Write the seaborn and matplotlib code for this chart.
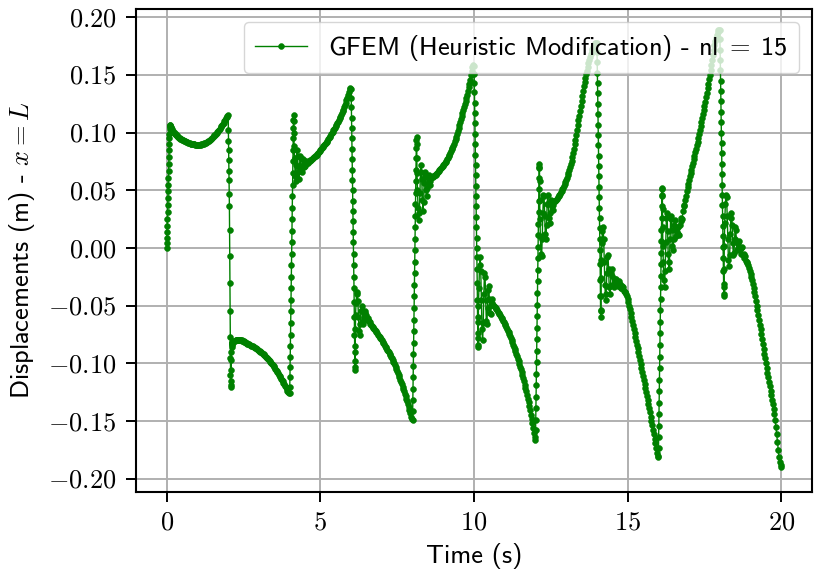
import numpy as np
import pandas as pd
import matplotlib
matplotlib.use("Agg")
import matplotlib.pyplot as plt
import seaborn as sns
from matplotlib.ticker import FuncFormatter

# Tip displacement u(x = L) of the bar under a load that flips sign every 2 s.
# Each 2 s half-period is stored as one list, sampled at the offsets below:
# 30 fine samples across the switch, 23 during the settling, 55 on the drift.
jump_offsets = 0.005 * np.arange(30)
settle_offsets = 0.16 + 0.02 * np.arange(23)
drift_offsets = 0.625 + 0.025 * np.arange(55)
period_starts = [0, 2, 4, 6, 8, 10, 12, 14, 16, 18]

u_00 = [0.000, 0.004, 0.009, 0.014, 0.019, 0.025, 0.031, 0.037, 0.043, 0.049,
        0.055, 0.061, 0.067, 0.073, 0.079, 0.085, 0.090, 0.095, 0.099, 0.103,
        0.1065, 0.1062, 0.1058, 0.1054, 0.1050, 0.1047, 0.1044, 0.1041, 0.1038, 0.1035,
        0.1027, 0.1018, 0.1012, 0.1005, 0.0999, 0.0993, 0.0986, 0.0980, 0.0975, 0.0970,
        0.0965, 0.0960, 0.0956, 0.0952, 0.0948, 0.0945, 0.0941, 0.0938, 0.0935, 0.0932,
        0.0929, 0.0927, 0.0924,
        0.0921, 0.0918, 0.0915, 0.0912, 0.0910, 0.0907, 0.0905, 0.0903, 0.0901, 0.0900,
        0.0898, 0.0897, 0.0896, 0.0895, 0.0894, 0.0894, 0.0894, 0.0894, 0.0895, 0.0896,
        0.0897, 0.0899, 0.0901, 0.0903, 0.0906, 0.0909, 0.0912, 0.0916, 0.0920, 0.0925,
        0.0930, 0.0935, 0.0941, 0.0947, 0.0953, 0.0960, 0.0967, 0.0975, 0.0982, 0.0990,
        0.0998, 0.1007, 0.1016, 0.1025, 0.1035, 0.1045, 0.1055, 0.1065, 0.1076, 0.1087,
        0.1098, 0.1110, 0.1124, 0.1138, 0.1148]

u_02 = [0.115, 0.102, 0.093, 0.085, 0.076, 0.067, 0.059, 0.047, 0.036, 0.016,
        -0.007, -0.030, -0.055, -0.077, -0.095, -0.110, -0.119, -0.120, -0.115, -0.106,
        -0.097, -0.090, -0.086, -0.084, -0.083, -0.0825, -0.0822, -0.0820, -0.0818, -0.0816,
        -0.0812, -0.0808, -0.0805, -0.0802, -0.0800, -0.0798, -0.0797, -0.0796, -0.0795, -0.0795,
        -0.0795, -0.0796, -0.0797, -0.0799, -0.0801, -0.0803, -0.0806, -0.0809, -0.0812, -0.0815,
        -0.0818, -0.0822, -0.0826,
        -0.0829, -0.0832, -0.0835, -0.0838, -0.0841, -0.0845, -0.0848, -0.0852, -0.0856, -0.0860,
        -0.0864, -0.0869, -0.0873, -0.0878, -0.0883, -0.0888, -0.0893, -0.0899, -0.0904, -0.0910,
        -0.0916, -0.0922, -0.0928, -0.0935, -0.0942, -0.0949, -0.0956, -0.0964, -0.0972, -0.0980,
        -0.0988, -0.0997, -0.1006, -0.1015, -0.1024, -0.1034, -0.1044, -0.1054, -0.1064, -0.1075,
        -0.1086, -0.1097, -0.1108, -0.1120, -0.1132, -0.1144, -0.1156, -0.1169, -0.1182, -0.1195,
        -0.1208, -0.1222, -0.1236, -0.1250, -0.1256]

u_04 = [-0.1255, -0.120, -0.112, -0.103, -0.094, -0.085, -0.075, -0.065, -0.055, -0.045,
        -0.035, -0.025, -0.015, -0.005, 0.005, 0.015, 0.025, 0.035, 0.045, 0.055,
        0.065, 0.075, 0.085, 0.095, 0.104, 0.111, 0.115, 0.110, 0.100, 0.088,
        0.078, 0.062, 0.058, 0.072, 0.085, 0.080, 0.066, 0.060, 0.070, 0.080,
        0.078, 0.068, 0.066, 0.072, 0.077, 0.075, 0.070, 0.071, 0.074, 0.075,
        0.074, 0.0735, 0.0740,
        0.0750, 0.0756, 0.0761, 0.0766, 0.0771, 0.0776, 0.0782, 0.0788, 0.0794, 0.0801,
        0.0808, 0.0815, 0.0822, 0.0830, 0.0838, 0.0846, 0.0854, 0.0863, 0.0872, 0.0881,
        0.0890, 0.0900, 0.0910, 0.0920, 0.0930, 0.0941, 0.0951, 0.0962, 0.0973, 0.0984,
        0.0995, 0.1007, 0.1019, 0.1031, 0.1043, 0.1056, 0.1069, 0.1082, 0.1095, 0.1109,
        0.1123, 0.1137, 0.1152, 0.1167, 0.1183, 0.1200, 0.1218, 0.1237, 0.1258, 0.1280,
        0.1303, 0.1328, 0.1353, 0.1375, 0.1385]

u_06 = [0.138, 0.130, 0.122, 0.113, 0.104, 0.095, 0.086, 0.077, 0.068, 0.059,
        0.050, 0.041, 0.032, 0.023, 0.014, 0.005, -0.005, -0.015, -0.025, -0.035,
        -0.047, -0.060, -0.075, -0.090, -0.103, -0.106, -0.098, -0.085, -0.070, -0.058,
        -0.048, -0.040, -0.038, -0.046, -0.060, -0.072, -0.075, -0.066, -0.055, -0.050,
        -0.054, -0.063, -0.066, -0.061, -0.056, -0.055, -0.058, -0.061, -0.062, -0.061,
        -0.062, -0.063, -0.0645,
        -0.0655, -0.0664, -0.0674, -0.0683, -0.0693, -0.0702, -0.0712, -0.0721, -0.0731, -0.0740,
        -0.0750, -0.0759, -0.0768, -0.0778, -0.0789, -0.0800, -0.0811, -0.0822, -0.0833, -0.0845,
        -0.0856, -0.0868, -0.0880, -0.0892, -0.0904, -0.0917, -0.0930, -0.0943, -0.0956, -0.0970,
        -0.0984, -0.0998, -0.1014, -0.1030, -0.1047, -0.1065, -0.1083, -0.1102, -0.1121, -0.1140,
        -0.1160, -0.1180, -0.1201, -0.1222, -0.1242, -0.1262, -0.1283, -0.1305, -0.1327, -0.1350,
        -0.1375, -0.1400, -0.1430, -0.1460, -0.1485]

u_08 = [-0.149, -0.141, -0.132, -0.122, -0.112, -0.102, -0.092, -0.082, -0.072, -0.062,
        -0.052, -0.042, -0.032, -0.022, -0.012, -0.002, 0.008, 0.018, 0.028, 0.038,
        0.048, 0.058, 0.068, 0.078, 0.087, 0.094, 0.0965, 0.090, 0.078, 0.065,
        0.050, 0.035, 0.024, 0.030, 0.048, 0.066, 0.072, 0.060, 0.042, 0.032,
        0.040, 0.056, 0.066, 0.062, 0.050, 0.045, 0.052, 0.061, 0.063, 0.058,
        0.055, 0.058, 0.061,
        0.0612, 0.0615, 0.0620, 0.0625, 0.0631, 0.0637, 0.0643, 0.0650, 0.0657, 0.0665,
        0.0673, 0.0681, 0.0689, 0.0698, 0.0707, 0.0716, 0.0726, 0.0736, 0.0747, 0.0758,
        0.0770, 0.0782, 0.0795, 0.0808, 0.0823, 0.0838, 0.0854, 0.0870, 0.0887, 0.0905,
        0.0923, 0.0942, 0.0966, 0.0990, 0.1015, 0.1040, 0.1065, 0.1090, 0.1115, 0.1140,
        0.1166, 0.1192, 0.1218, 0.1245, 0.1272, 0.1300, 0.1330, 0.1360, 0.1392, 0.1425,
        0.1460, 0.1495, 0.1532, 0.1570, 0.1585]

u_10 = [0.158, 0.151, 0.143, 0.135, 0.126, 0.117, 0.108, 0.099, 0.090, 0.081,
        0.072, 0.063, 0.054, 0.045, 0.036, 0.027, 0.018, 0.009, 0.000, -0.008,
        -0.018, -0.030, -0.045, -0.060, -0.074, -0.084, -0.0855, -0.078, -0.064, -0.050,
        -0.035, -0.015, -0.008, -0.020, -0.045, -0.070, -0.080, -0.065, -0.040, -0.022,
        -0.025, -0.045, -0.063, -0.066, -0.052, -0.036, -0.033, -0.044, -0.056, -0.057,
        -0.049, -0.044, -0.048,
        -0.0496, -0.0505, -0.0513, -0.0522, -0.0531, -0.0541, -0.0551, -0.0561, -0.0572, -0.0583,
        -0.0594, -0.0606, -0.0618, -0.0631, -0.0644, -0.0657, -0.0671, -0.0685, -0.0700, -0.0715,
        -0.0731, -0.0747, -0.0764, -0.0781, -0.0799, -0.0817, -0.0836, -0.0855, -0.0875, -0.0895,
        -0.0916, -0.0937, -0.0959, -0.0981, -0.1004, -0.1027, -0.1051, -0.1076, -0.1102, -0.1128,
        -0.1155, -0.1183, -0.1212, -0.1242, -0.1273, -0.1305, -0.1338, -0.1372, -0.1407, -0.1443,
        -0.1480, -0.1518, -0.1558, -0.1600, -0.1640]

u_12 = [-0.166, -0.158, -0.149, -0.139, -0.129, -0.119, -0.109, -0.099, -0.089, -0.079,
        -0.069, -0.059, -0.049, -0.039, -0.029, -0.019, -0.009, 0.001, 0.011, 0.021,
        0.031, 0.041, 0.051, 0.061, 0.069, 0.073, 0.070, 0.058, 0.042, 0.025,
        0.010, -0.005, -0.007, 0.008, 0.030, 0.046, 0.045, 0.028, 0.012, 0.008,
        0.020, 0.038, 0.046, 0.038, 0.026, 0.022, 0.030, 0.040, 0.042, 0.036,
        0.033, 0.037, 0.041,
        0.0405, 0.0410, 0.0419, 0.0428, 0.0438, 0.0448, 0.0459, 0.0470, 0.0482, 0.0495,
        0.0509, 0.0523, 0.0539, 0.0555, 0.0572, 0.0590, 0.0610, 0.0630, 0.0652, 0.0675,
        0.0700, 0.0725, 0.0754, 0.0785, 0.0822, 0.0860, 0.0900, 0.0940, 0.0980, 0.1020,
        0.1062, 0.1105, 0.1148, 0.1190, 0.1232, 0.1275, 0.1318, 0.1360, 0.1400, 0.1440,
        0.1473, 0.1505, 0.1538, 0.1570, 0.1600, 0.1630, 0.1658, 0.1685, 0.1706, 0.1725,
        0.1741, 0.1755, 0.1766, 0.1775, 0.1780]

u_14 = [0.178, 0.170, 0.161, 0.152, 0.143, 0.134, 0.125, 0.116, 0.107, 0.098,
        0.089, 0.080, 0.071, 0.062, 0.053, 0.044, 0.035, 0.026, 0.017, 0.008,
        -0.002, -0.014, -0.028, -0.042, -0.054, -0.0595, -0.055, -0.042, -0.026, -0.010,
        0.004, 0.015, 0.018, 0.008, -0.012, -0.032, -0.045, -0.040, -0.022, -0.008,
        -0.006, -0.018, -0.034, -0.040, -0.033, -0.022, -0.018, -0.024, -0.032, -0.034,
        -0.030, -0.027, -0.029,
        -0.0270, -0.0305, -0.0330, -0.0310, -0.0290, -0.0310, -0.0345, -0.0350, -0.0330, -0.0340,
        -0.0370, -0.0385, -0.0380, -0.0395, -0.0420, -0.0445, -0.0470, -0.0500, -0.0532, -0.0565,
        -0.0598, -0.0632, -0.0666, -0.0700, -0.0734, -0.0768, -0.0802, -0.0836, -0.0870, -0.0904,
        -0.0938, -0.0972, -0.1006, -0.1040, -0.1074, -0.1108, -0.1142, -0.1176, -0.1210, -0.1245,
        -0.1280, -0.1315, -0.1351, -0.1387, -0.1423, -0.1460, -0.1497, -0.1535, -0.1573, -0.1612,
        -0.1652, -0.1692, -0.1733, -0.1775, -0.1805]

u_16 = [-0.181, -0.173, -0.164, -0.154, -0.144, -0.134, -0.124, -0.114, -0.104, -0.094,
        -0.084, -0.074, -0.064, -0.054, -0.044, -0.034, -0.024, -0.014, -0.004, 0.006,
        0.016, 0.026, 0.036, 0.045, 0.051, 0.052, 0.046, 0.034, 0.018, 0.002,
        -0.012, -0.028, -0.034, -0.020, 0.005, 0.026, 0.030, 0.015, -0.005, -0.018,
        -0.012, 0.008, 0.025, 0.028, 0.016, 0.002, -0.002, 0.008, 0.020, 0.024,
        0.016, 0.010, 0.014,
        0.0180, 0.0120, 0.0110, 0.0200, 0.0260, 0.0230, 0.0250, 0.0320, 0.0360, 0.0375,
        0.0415, 0.0455, 0.0490, 0.0525, 0.0558, 0.0590, 0.0620, 0.0650, 0.0680, 0.0710,
        0.0740, 0.0770, 0.0800, 0.0830, 0.0860, 0.0890, 0.0922, 0.0955, 0.0988, 0.1022,
        0.1056, 0.1090, 0.1125, 0.1160, 0.1196, 0.1232, 0.1269, 0.1306, 0.1344, 0.1383,
        0.1422, 0.1462, 0.1503, 0.1545, 0.1587, 0.1630, 0.1673, 0.1715, 0.1755, 0.1790,
        0.1822, 0.1850, 0.1872, 0.1887, 0.1893]

u_18 = [0.189, 0.181, 0.172, 0.163, 0.154, 0.145, 0.136, 0.127, 0.118, 0.109,
        0.100, 0.091, 0.082, 0.073, 0.064, 0.055, 0.046, 0.037, 0.028, 0.019,
        0.010, 0.001, -0.009, -0.020, -0.031, -0.040, -0.042, -0.034, -0.018, 0.002,
        0.022, 0.038, 0.046, 0.044, 0.028, 0.008, -0.010, -0.016, -0.006, 0.012,
        0.026, 0.030, 0.020, 0.004, -0.006, -0.004, 0.008, 0.018, 0.016, 0.006,
        -0.002, 0.000, 0.004,
        0.0060, -0.0010, -0.0050, 0.0000, 0.0010, -0.0060, -0.0090, -0.0050, -0.0070, -0.0110,
        -0.0120, -0.0130, -0.0150, -0.0170, -0.0195, -0.0222, -0.0250, -0.0280, -0.0312, -0.0345,
        -0.0382, -0.0420, -0.0460, -0.0500, -0.0541, -0.0582, -0.0623, -0.0665, -0.0706, -0.0748,
        -0.0790, -0.0832, -0.0873, -0.0915, -0.0956, -0.0998, -0.1039, -0.1080, -0.1120, -0.1160,
        -0.1199, -0.1238, -0.1276, -0.1315, -0.1354, -0.1395, -0.1440, -0.1490, -0.1548, -0.1610,
        -0.1678, -0.1750, -0.1810, -0.1855, -0.1882]

t_final = 20.0
u_final = -0.190

y_ticks = [-0.20, -0.15, -0.10, -0.05, 0.00, 0.05, 0.10, 0.15, 0.20]
x_ticks = [0, 5, 10, 15, 20]
series_label = r"GFEM (Heuristic Modification) - nl$\;=\;$15"

periods = [u_00, u_02, u_04, u_06, u_08, u_10, u_12, u_14, u_16, u_18]
offsets = np.concatenate([jump_offsets, settle_offsets, drift_offsets])
for start, vals in zip(period_starts, periods):
    if len(vals) != len(offsets):
        raise ValueError(f"period {start}: {len(vals)} values, expected {len(offsets)}")

time = np.concatenate([start + offsets for start in period_starts] + [[t_final]])
disp = np.concatenate([np.asarray(v, dtype=float) for v in periods] + [[u_final]])
df = pd.DataFrame({"Time (s)": np.round(time, 4), "u": disp})

plt.rcParams["font.family"] = ["cmss10", "DejaVu Sans"]
plt.rcParams["mathtext.fontset"] = "cm"
FS = 19

fig = plt.figure(figsize=(8.15, 5.77), dpi=100)
ax = fig.add_axes([136 / 815, 85 / 577, 676 / 815, 483 / 577])

sns.lineplot(data=df, x="Time (s)", y="u", ax=ax, color="green",
             marker="o", markersize=4.2, markeredgewidth=0.4,
             markeredgecolor="green", linewidth=1.0,
             estimator=None, sort=False, label=series_label)

ax.set_xlim(-1, 21)
ax.set_ylim(-0.2114, 0.2071)
ax.set_xticks(x_ticks)
ax.set_yticks(y_ticks)
ax.xaxis.set_major_formatter(FuncFormatter(lambda v, p: f"${v:.0f}$"))
ax.yaxis.set_major_formatter(FuncFormatter(lambda v, p: f"${v:.2f}$"))
ax.tick_params(axis="both", labelsize=FS, length=7, width=1.4, pad=7, direction="out")
ax.grid(True, color="#b0b0b0", linewidth=1.4)
ax.set_axisbelow(True)
for sp in ax.spines.values():
    sp.set_linewidth(1.5)
    sp.set_color("black")

ax.set_xlabel("Time (s)", fontsize=FS, labelpad=6)
ax.set_ylabel("Displacements (m) - $x = L$", fontsize=FS, labelpad=8)

leg = ax.legend(loc="upper right", fontsize=FS, framealpha=0.8, fancybox=True,
                edgecolor="0.8", borderaxespad=0.5, handlelength=2.0)
leg.get_frame().set_linewidth(1.0)

fig.savefig("out.png", dpi=100)
